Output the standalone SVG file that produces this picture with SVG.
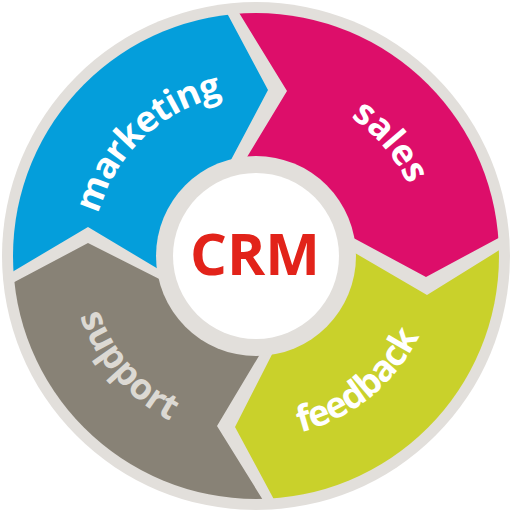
<svg xmlns="http://www.w3.org/2000/svg" xmlns:xlink="http://www.w3.org/1999/xlink" width="512" height="512" viewBox="0 0 512 512">
  <style>
    .lbl { font-family: "Open Sans", "Liberation Sans", sans-serif; font-weight: 700; font-size: 36px; fill: #ffffff; }
    .tight { letter-spacing: -1px; }
    .sup { fill: #dcd9d3; }
    .crm { font-family: "Open Sans", "Liberation Sans", sans-serif; font-weight: 700; font-size: 58px; fill: #e2231a; }
  </style>
  <defs>
    <clipPath id="ring">
      <circle cx="256" cy="256" r="243"/>
    </clipPath>
    <path id="pMarketing" d="M95.8,286.3 A163,163 0 0 1 293.5,97.4"/>
    <path id="pSales" d="M284,90.4 A168,168 0 0 1 424,255.1"/>
    <path id="pFeedback" d="M191,425.9 A182,182 0 0 0 435.8,228.5"/>
    <path id="pSupport" d="M80.5,194.5 A186,186 0 0 0 290.5,438.8"/>
  </defs>

  <circle id="background" cx="256" cy="256" r="254" fill="#e2dfdb"/>

  <g clip-path="url(#ring)">
    <g id="marketing">
      <polygon fill="#049edb" points="212,-15 268,90 215,190 256,256 190,288 88,227 -20,291 -20,-15"/>
    </g>
    <g id="sales">
      <polygon fill="#dd0e6a" points="222,-15 287,91 227,190 256,256 320,220 426,277 530,221 530,-15"/>
    </g>
    <g id="feedback">
      <polygon fill="#c9d12b" points="319,232 427,295 535,228 535,535 292,533 235,427 290,319 256,256"/>
    </g>
    <g id="support">
      <polygon fill="#888276" points="278,324 217,426 284,534 -25,534 -25,303 88,243 191,295 256,256"/>
    </g>
  </g>

  <g id="labels">
    <text class="lbl tight"><textPath xlink:href="#pMarketing" href="#pMarketing" startOffset="50%" text-anchor="middle">marketing</textPath></text>
    <text class="lbl"><textPath xlink:href="#pSales" href="#pSales" startOffset="50%" text-anchor="middle">sales</textPath></text>
    <text class="lbl tight"><textPath xlink:href="#pFeedback" href="#pFeedback" startOffset="50%" text-anchor="middle">feedback</textPath></text>
    <text class="lbl sup"><textPath xlink:href="#pSupport" href="#pSupport" startOffset="50%" text-anchor="middle">support</textPath></text>
  </g>

  <g id="crm">
    <circle cx="256" cy="256" r="100" fill="#e2dfdb"/>
    <circle cx="256" cy="256" r="83" fill="#ffffff"/>
    <text class="crm" x="255" y="275" text-anchor="middle">CRM</text>
  </g>

  <g id="connectors"/>
</svg>
